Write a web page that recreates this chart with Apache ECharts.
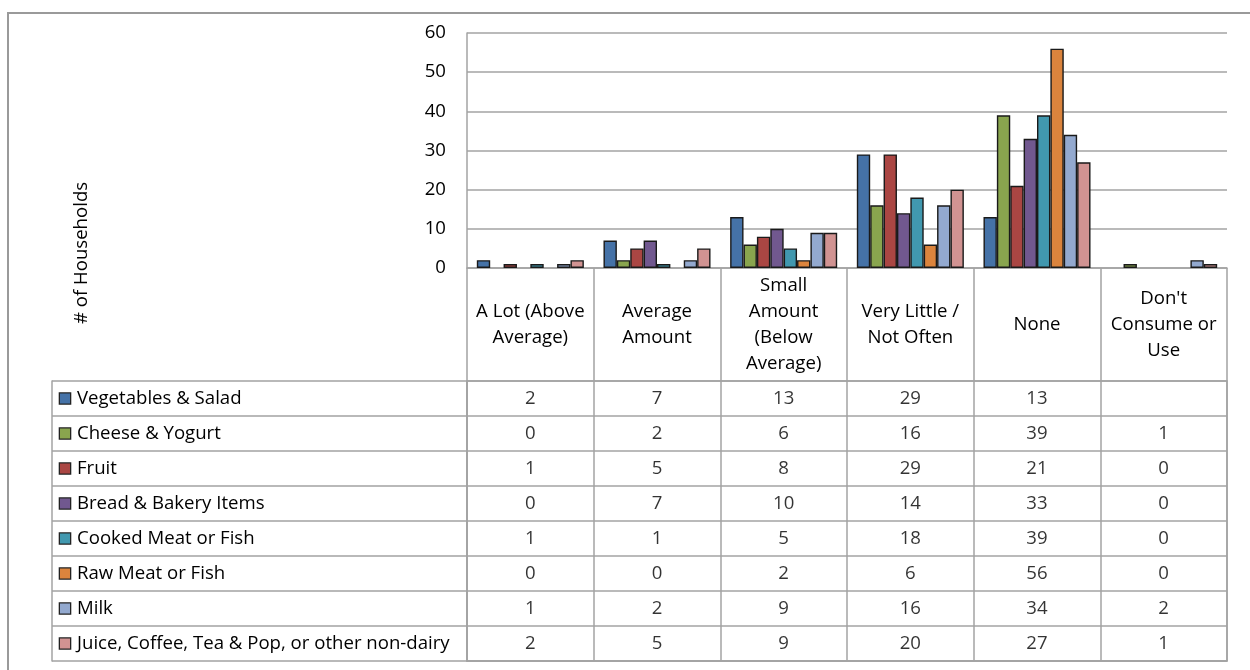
<!DOCTYPE html>
<html>
<head>
<meta charset="utf-8">
<script src="https://cdn.jsdelivr.net/npm/echarts@6/dist/echarts.min.js"></script>
<style>html,body{margin:0;padding:0;background:#fff;}#main{width:1250px;height:670px;}</style>
</head>
<body>
<div id="main"></div>
<script>
// ---- data ----
const categories = ['A Lot (Above\nAverage)', 'Average\nAmount', 'Small\nAmount\n(Below\nAverage)', 'Very Little /\nNot Often', 'None', "Don't\nConsume or\nUse"];
const seriesNames = ['Vegetables & Salad', 'Cheese & Yogurt', 'Fruit', 'Bread & Bakery Items', 'Cooked Meat or Fish', 'Raw Meat or Fish', 'Milk', 'Juice, Coffee, Tea & Pop, or other non-dairy'];
const vegetables = [2, 7, 13, 29, 13, null];
const cheese = [0, 2, 6, 16, 39, 1];
const fruit = [1, 5, 8, 29, 21, 0];
const bread = [0, 7, 10, 14, 33, 0];
const cookedMeat = [1, 1, 5, 18, 39, 0];
const rawMeat = [0, 0, 2, 6, 56, 0];
const milk = [1, 2, 9, 16, 34, 2];
const juice = [2, 5, 9, 20, 27, 1];
const yTicks = {min: 0, max: 60, interval: 10};
const axisTitle = '# of Households';

const seriesValues = [vegetables, cheese, fruit, bread, cookedMeat, rawMeat, milk, juice];
const colors = ['#4572A7', '#89A54E', '#AA4643', '#71588F', '#4198AF', '#DB843D', '#93A9CF', '#D19392'];

const FONT = 'Open Sans';
const FS = 18.6;
const lineCol = '#a3a3a3';
const chart = echarts.init(document.getElementById('main'));

const rich = {};
colors.forEach((c, i) => {
  rich['sq' + i] = {width: 10, height: 10, backgroundColor: c, borderColor: '#222', borderWidth: 1.3};
});
rich.t = {fontFamily: FONT, fontSize: FS, color: '#000', padding: [0, 0, 0, 7]};

const barSeries = seriesNames.map((name, i) => ({
  type: 'bar',
  name: name,
  xAxisIndex: 0,
  yAxisIndex: 0,
  data: seriesValues[i].map(v => (v === null || v === 0) ? '-' : v),
  barGap: '0%',
  barCategoryGap: '15.5%',
  itemStyle: {color: colors[i], borderColor: '#1a1a1a', borderWidth: 1.4},
  silent: true
}));

const cellData = [];
seriesValues.forEach((arr, s) => {
  arr.forEach((v, c) => { if (v !== null) cellData.push([c, s, v]); });
});

const option = {
  animation: false,
  textStyle: {fontFamily: FONT},
  grid: [
    {left: 467, top: 33, width: 760, height: 235},
    {left: 467, top: 381, width: 760, height: 280, show: true, borderColor: lineCol, borderWidth: 1.5, backgroundColor: 'transparent'}
  ],
  xAxis: [
    {
      type: 'category', gridIndex: 0, data: categories,
      axisLine: {show: true, lineStyle: {color: lineCol, width: 1.5}},
      axisTick: {show: true, length: 113, interval: 0, lineStyle: {color: lineCol, width: 1.5}},
      axisLabel: {interval: 0, margin: 57, verticalAlign: 'middle', lineHeight: 26, color: '#000', fontFamily: FONT, fontSize: FS, align: 'center'},
      splitLine: {show: false}
    },
    {
      type: 'category', gridIndex: 1, data: categories,
      axisLine: {show: true, lineStyle: {color: lineCol, width: 1.5}},
      axisTick: {show: false},
      axisLabel: {show: false},
      splitLine: {show: true, interval: 0, lineStyle: {color: lineCol, width: 1.5}}
    }
  ],
  yAxis: [
    {
      type: 'value', gridIndex: 0, min: yTicks.min, max: yTicks.max, interval: yTicks.interval,
      axisLine: {show: true, lineStyle: {color: lineCol, width: 1.5}},
      axisTick: {show: false},
      axisLabel: {margin: 21, color: '#000', fontFamily: FONT, fontSize: FS},
      splitLine: {show: true, lineStyle: {color: lineCol, width: 1.5}}
    },
    {
      type: 'category', gridIndex: 1, data: seriesNames, inverse: true,
      axisLine: {show: true, lineStyle: {color: lineCol, width: 1.5}},
      axisTick: {show: true, length: 415, interval: 0, lineStyle: {color: lineCol, width: 1.5}},
      axisLabel: {
        interval: 0, margin: 407, align: 'left',
        formatter: (val, idx) => '{sq' + idx + '|}{t|' + val + '}',
        rich: rich
      },
      splitLine: {show: true, interval: 0, lineStyle: {color: lineCol, width: 1.5}}
    },
    {
      type: 'category', gridIndex: 1, data: seriesNames, inverse: true, position: 'left', offset: 415,
      axisLine: {show: true, lineStyle: {color: lineCol, width: 1.5}},
      axisTick: {show: false}, axisLabel: {show: false}, splitLine: {show: false}
    }
  ],
  series: barSeries.concat([{
    type: 'scatter', xAxisIndex: 1, yAxisIndex: 1, data: cellData,
    symbolSize: 1, itemStyle: {color: 'rgba(0,0,0,0)'}, silent: true,
    label: {show: true, position: 'inside', formatter: p => String(p.value[2]), color: '#000', fontFamily: FONT, fontSize: FS}
  }]),
  graphic: [
    {type: 'rect', shape: {x: 8, y: 13, width: 1260, height: 680}, style: {fill: 'none', stroke: '#9a9a9a', lineWidth: 2}, silent: true},
    {type: 'text', x: 82, y: 253, rotation: Math.PI / 2, style: {text: axisTitle, fontFamily: FONT, fontSize: FS, fill: '#000', align: 'center', verticalAlign: 'middle'}, silent: true}
  ]
};
chart.setOption(option);
</script>
</body>
</html>
